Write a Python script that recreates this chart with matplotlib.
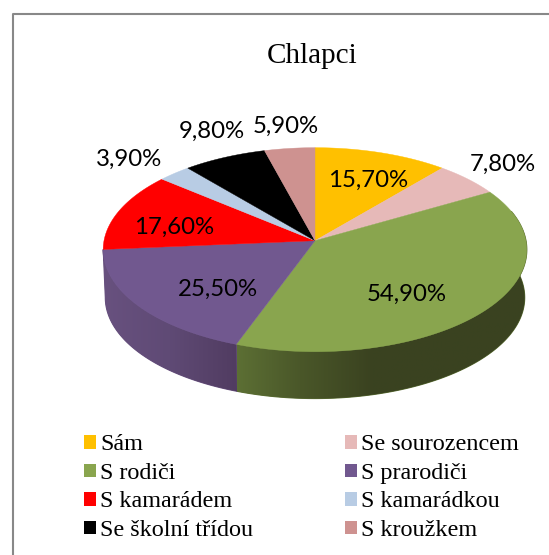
import numpy as np
import matplotlib
matplotlib.use('Agg')
import matplotlib.pyplot as plt
from matplotlib.patches import Patch, Polygon

title = 'Chlapci'
kategorie = ['Sám', 'Se sourozencem', 'S rodiči', 'S prarodiči',
             'S kamarádem', 'S kamarádkou', 'Se školní třídou', 'S kroužkem']
hodnoty = [15.7, 7.8, 54.9, 25.5, 17.6, 3.9, 9.8, 5.9]
barvy = ['#FFC000', '#E6B9B8', '#89A54E', '#71588F',
         '#FF0000', '#B8CCE4', '#000000', '#CE9290']

# label centres in pixels
pozice = [(368, 180), (503, 164), (407, 294), (218, 289),
          (174.5, 227), (129, 159), (211.5, 131), (285.5, 126)]

# pie geometry in pixels, k is the perspective of the tilted disc
cx, cy = 315, 240.7
a, b, k = 211, 101.2, 0.088
hloubka = 48

# side gradients only for the slices seen from the front
boky = {2: [(237, '#5C6F34'), (300, '#4A5729'), (373, '#3A4220'), (527, '#3A4320')],
        3: [(103, '#68517F'), (170, '#5F4A75'), (237, '#513C61')]}


def bod(uhel, dolni=False):
    # angle is clockwise from the top of the pie
    u = np.sin(uhel)
    v = np.cos(uhel)
    d = 1 + k*v
    x = a*u/d
    y = -b*v/d
    if dolni:
        return cx + 0.99*x, cy + 0.99*y + hloubka
    return cx + x, cy + y


fig = plt.figure(figsize=(5.49, 5.55), dpi=100)
ax = fig.add_axes([0, 0, 1, 1])
ax.axis('off')

ax.plot([12.5, 12.5, 549], [555, 13.5, 13.5], color='#888888', lw=1.5)

hranice = np.cumsum([0] + hodnoty)/sum(hodnoty)*2*np.pi

for i, stops in boky.items():
    t = np.linspace(hranice[i], hranice[i+1], 200)
    t = t[np.cos(t) < 0.3]
    x1, y1 = bod(t)
    x2, y2 = bod(t, True)
    poly = Polygon(np.column_stack([np.r_[x1, x2[::-1]], np.r_[y1, y2[::-1]]]),
                   fc='none', ec='none', transform=ax.transData)
    ax.add_patch(poly)
    # plain fill underneath closes the seam between the two gradients
    ax.fill(np.r_[x1, x2[::-1]], np.r_[y1, y2[::-1]], color=stops[0][1], lw=0.8, zorder=0.5)
    cmap = matplotlib.colors.LinearSegmentedColormap.from_list(
        'bok', [((s[0]-stops[0][0])/(stops[-1][0]-stops[0][0]), s[1]) for s in stops])
    im = ax.imshow(np.linspace(0, 1, 256).reshape(1, -1), cmap=cmap, aspect='auto',
                   extent=(stops[0][0], stops[-1][0], 420, 230), zorder=1)
    im.set_clip_path(poly)

ax.set_xlim(0, 549)
ax.set_ylim(555, 0)

for i, barva in enumerate(barvy):
    t = np.linspace(hranice[i], hranice[i+1], 120)
    x, y = bod(t)
    ax.fill(np.r_[cx, x], np.r_[cy, y], color=barva, lw=0.3, zorder=2)

for h, (x, y) in zip(hodnoty, pozice):
    ax.text(x, y, f'{h:.2f}%'.replace('.', ','), family='Lato', fontsize=17.3,
            ha='center', va='center', color='black', zorder=3)

ax.text(312.5, 56, title, family='Liberation Serif', fontsize=21,
        ha='center', va='center')

# legend is filled by columns so reorder for rows
poradi = list(range(0, 8, 2)) + list(range(1, 8, 2))
ax.legend([Patch(fc=barvy[i], ec='none') for i in poradi],
          [kategorie[i] for i in poradi],
          ncol=2, frameon=False, loc='upper left', bbox_to_anchor=(84, 434.5),
          bbox_transform=ax.transData,
          prop={'family': 'Liberation Serif', 'size': 17.4},
          handlelength=0.5, handleheight=0.5, handletextpad=0.17,
          labelspacing=0.31, columnspacing=3.8, borderpad=0, borderaxespad=0)

fig.savefig('out.png', dpi=100)
